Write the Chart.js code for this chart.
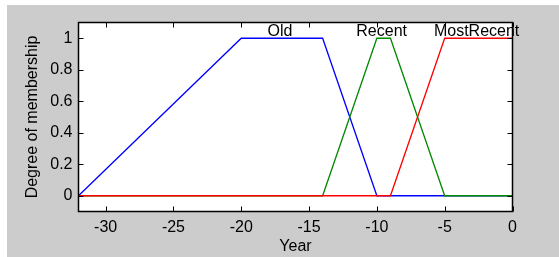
<!DOCTYPE html>
<html>
<head>
<meta charset="utf-8">
<script src="https://cdn.jsdelivr.net/npm/chart.js@4.4.1/dist/chart.umd.min.js"></script>
<style>
  html, body { margin: 0; padding: 0; background: #ffffff; }
  #wrap { width: 559px; height: 257px; }
</style>
</head>
<body>
<div id="wrap"><canvas id="mfChart" width="559" height="257"></canvas></div>
<script>
// Membership functions (breakpoints)
const years = [-32, -20, -14, -10, -9, -5, 0];
const oldMf = [0, 1, 1, 0, 0, 0, 0];
const recentMf = [0, 0, 0, 1, 1, 0, 0];
const mostRecentMf = [0, 0, 0, 0, 0, 1, 1];

const mfNames = ['Old', 'Recent', 'MostRecent'];
const xTicks = [-30, -25, -20, -15, -10, -5, 0];
const yTicks = [0, 0.2, 0.4, 0.6, 0.8, 1];

const FONT = { family: 'Liberation Sans, Arial, sans-serif', size: 16 };
const TEXT = '#000000';

function toPoints(values) {
  return years.map((x, i) => ({ x: x, y: values[i] }));
}

// centre of the plateau (where membership is 1)
function plateauCentre(values) {
  const xs = years.filter((x, i) => values[i] === 1);
  return (Math.min(...xs) + Math.max(...xs)) / 2;
}

// Figure background, white axes, box, inward ticks and mf names
const matlabLook = {
  id: 'matlabLook',
  beforeDraw(chart) {
    const { ctx, chartArea: a } = chart;
    ctx.save();
    ctx.fillStyle = '#ffffff';
    ctx.fillRect(0, 0, chart.width, chart.height);
    ctx.fillStyle = '#cccccc';
    ctx.fillRect(7, 5, chart.width - 7, chart.height - 5);
    ctx.fillStyle = '#ffffff';
    ctx.fillRect(a.left, a.top, a.right - a.left, a.bottom - a.top);
    ctx.restore();
  },
  afterDraw(chart) {
    const { ctx, chartArea: a } = chart;
    const xs = chart.scales.x, ys = chart.scales.y;
    ctx.save();
    ctx.strokeStyle = '#000000';
    ctx.lineWidth = 1;
    ctx.beginPath();
    xTicks.forEach(v => {
      const px = Math.round(xs.getPixelForValue(v)) + 0.5;
      ctx.moveTo(px, a.bottom); ctx.lineTo(px, a.bottom - 5);
      ctx.moveTo(px, a.top); ctx.lineTo(px, a.top + 5);
    });
    yTicks.forEach(v => {
      const py = Math.round(ys.getPixelForValue(v)) + 0.5;
      ctx.moveTo(a.left, py); ctx.lineTo(a.left + 5, py);
      ctx.moveTo(a.right, py); ctx.lineTo(a.right - 5, py);
    });
    ctx.stroke();
    ctx.lineWidth = 1.5;
    ctx.strokeRect(a.left, a.top, a.right - a.left, a.bottom - a.top);

    // names of the membership functions above their plateau
    ctx.font = FONT.size + 'px ' + FONT.family;
    ctx.fillStyle = TEXT;
    ctx.textAlign = 'center';
    ctx.textBaseline = 'alphabetic';
    [oldMf, recentMf, mostRecentMf].forEach((mf, i) => {
      const px = xs.getPixelForValue(plateauCentre(mf)) - 2;
      const py = ys.getPixelForValue(1) - 2;
      ctx.fillText(mfNames[i], px, py);
    });
    ctx.restore();
  }
};

const ctx = document.getElementById('mfChart').getContext('2d');
const mfChart = new Chart(ctx, {
  type: 'line',
  data: {
    datasets: [
      { label: mfNames[0], data: toPoints(oldMf), borderColor: '#0000ff', order: 3 },
      { label: mfNames[1], data: toPoints(recentMf), borderColor: '#008a00', order: 2 },
      { label: mfNames[2], data: toPoints(mostRecentMf), borderColor: '#ff0000', order: 1 }
    ]
  },
  options: {
    responsive: false,
    animation: false,
    elements: {
      line: { borderWidth: 1.3, tension: 0, fill: false },
      point: { radius: 0 }
    },
    layout: { padding: { left: 0, top: 22.5, right: 46.5, bottom: 0 } },
    plugins: {
      legend: { display: false },
      tooltip: { enabled: false }
    },
    scales: {
      x: {
        type: 'linear',
        min: -32,
        max: 0,
        grid: { display: false, drawTicks: false },
        border: { display: false },
        afterBuildTicks: scale => { scale.ticks = xTicks.map(v => ({ value: v })); },
        afterFit: scale => { scale.height = 45.5; },
        ticks: {
          color: TEXT, font: FONT, padding: 6, maxRotation: 0,
          callback: v => String(v)
        },
        title: { display: true, text: 'Year', color: TEXT, font: FONT, padding: { top: 0, bottom: 1 } }
      },
      y: {
        min: -0.1,
        max: 1.1,
        grid: { display: false, drawTicks: false },
        border: { display: false },
        afterBuildTicks: scale => { scale.ticks = yTicks.map(v => ({ value: v })); },
        afterFit: scale => { scale.width = 78.5; },
        ticks: {
          color: TEXT, font: FONT, padding: 6,
          callback: v => String(v)
        },
        title: { display: true, text: 'Degree of membership', color: TEXT, font: FONT, padding: { top: 23, bottom: 0 } }
      }
    }
  },
  plugins: [matlabLook]
});
</script>
</body>
</html>
